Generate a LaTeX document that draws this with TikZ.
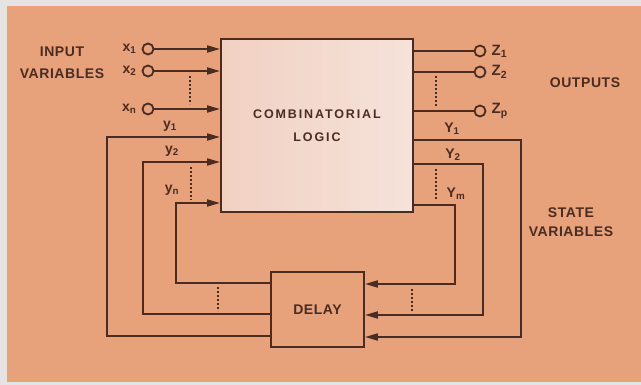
\documentclass[tikz,border=0pt]{standalone}
\usepackage{fontspec}
\setmainfont{Liberation Sans}
\newfontfamily\capsfont[LetterSpace=4]{Liberation Sans}
\newfontfamily\widefont[LetterSpace=15]{Liberation Sans}
\usetikzlibrary{arrows.meta,positioning,calc}

\definecolor{peach}{HTML}{E8A27B}
\definecolor{pale}{HTML}{F2D6CA}
\definecolor{ink}{HTML}{4A2C22}
\definecolor{margin}{HTML}{E6E4E2}

\begin{document}
\begin{tikzpicture}[x=1pt, y=-1pt,
    wire/.style={ink, line width=1.9pt},
    feed/.style={wire, -{Triangle[length=13pt,width=7pt]}},
    dots/.style={ink, line width=1.5pt, dash pattern=on 2pt off 2pt},
    port/.style={circle, draw=ink, line width=1.8pt, fill=peach, inner sep=0pt, minimum size=11pt},
    block/.style={draw=ink, line width=1.9pt, inner sep=0pt},
    caption/.style={ink, align=center, font=\capsfont\bfseries\fontsize{14}{22}\selectfont},
    var/.style={ink, inner sep=1pt, font=\bfseries\fontsize{14}{14}\selectfont}]
    \useasboundingbox (0,0) rectangle (641,385);

    % Background
    \fill[margin] (0,0) rectangle (641,385);
    \fill[peach] (7,6) rectangle (641,382);

    % Blocks
    \node[block, left color=pale!90!peach, right color=pale!70!white, minimum width=192pt,
          minimum height=173pt, align=center,
          font=\widefont\bfseries\fontsize{12.5}{23}\selectfont, text=ink]
        (logic) at (317,125.5) {COMBINATORIAL\\LOGIC};
    \node[block, minimum width=93pt, minimum height=75pt,
          font=\capsfont\bfseries\fontsize{14}{16}\selectfont, text=ink]
        (delay) at (317.5,309.5) {DELAY};

    % Inputs
    \foreach \i/\y/\t in {1/49/1, 2/71/2, n/109/n} {
        \node[port] (in\i) at (148,\y) {};
        \node[var, left=4pt of in\i] (xl\i) {x\textsubscript{\t}};
        \draw[feed] (in\i.east) -- (logic.west |- in\i);
    }
    \draw[dots] ($(in2)+(42,5)$) coordinate (d1a) -- ($(inn)+(42,-5)$) coordinate (d1b);

    % Outputs
    \foreach \i/\y/\t in {1/51/1, 2/72/2, p/111/p} {
        \node[port] (out\i) at (480,\y) {};
        \node[var, right=4pt of out\i, font=\bfseries\fontsize{15}{15}\selectfont] (zl\i) {Z\textsubscript{\t}};
        \draw[wire] (logic.east |- out\i) -- (out\i.west);
    }
    \draw[dots] ($(out2)+(-44,4)$) coordinate (d2a) -- ($(outp)+(-44,-5)$) coordinate (d2b);

    % Feedback into the logic
    \foreach \i/\x/\yt/\yb in {1/107/137/336, 2/143/162/314, n/176/203/283} {
        \coordinate (lt\i) at (\x,\yt);
        \coordinate (lb\i) at (\x,\yb);
        \draw[feed] (delay.west |- lb\i) -- (lb\i) -- (lt\i) -- (logic.west |- lt\i);
    }
    \node[var] (yl1) at (170,126) {y\textsubscript{1}};
    \node[var] (yl2) at (172,151) {y\textsubscript{2}};
    \node[var] (yln) at (172,190) {y\textsubscript{n}};
    \draw[dots] (191,167) coordinate (d3a) -- (191,200) coordinate (d3b);
    \draw[dots] (218,287) coordinate (d5a) -- (218,311) coordinate (d5b);

    % Feedback into the delay
    \foreach \i/\x/\yt/\yb in {1/521/140/337, 2/483/164/315, m/455/205/284} {
        \coordinate (rt\i) at (\x,\yt);
        \coordinate (rb\i) at (\x,\yb);
        \draw[feed] (logic.east |- rt\i) -- (rt\i) -- (rb\i) -- (delay.east |- rb\i);
    }
    \node[var] (Yl1) at (452,129) {Y\textsubscript{1}};
    \node[var] (Yl2) at (453,155) {Y\textsubscript{2}};
    \node[var] (Ylm) at (456,194) {Y\textsubscript{m}};
    \draw[dots] (436,169) coordinate (d4a) -- (436,200) coordinate (d4b);
    \draw[dots] (412,289) coordinate (d6a) -- (412,312) coordinate (d6b);

    % Captions
    \node[caption] (inputs) at (62,63) {INPUT\\VARIABLES};
    \node[caption] (outputs) at (585,82.5) {OUTPUTS};
    \node[caption, font=\capsfont\bfseries\fontsize{14}{19}\selectfont] (states) at (571,222.5) {STATE\\VARIABLES};
\end{tikzpicture}
\end{document}
